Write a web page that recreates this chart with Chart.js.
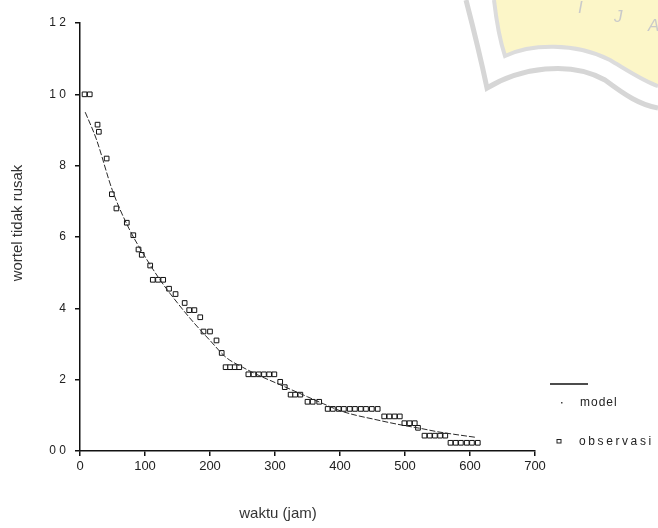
<!DOCTYPE html>
<html>
<head>
<meta charset="utf-8">
<script src="https://cdn.jsdelivr.net/npm/chart.js@4.4.1/dist/chart.umd.min.js"></script>
<style>
html, body { margin: 0; padding: 0; background: #fff; }
#chart-container { width: 658px; height: 528px; }
</style>
</head>
<body>
<div id="chart-container"><canvas id="chart-canvas" width="658" height="528"></canvas></div>
<script>
// observasi (jam, jumlah wortel tidak rusak)
const obsTime = [7, 15, 27, 29, 41, 49, 56, 72, 82, 90, 95, 108, 112, 120, 128, 137, 147, 161, 168, 176,
    185, 190, 200, 210, 218, 224, 231, 238, 245, 259, 267, 275, 283, 291, 299, 308, 315, 324, 331, 339,
    350, 358, 368, 381, 389, 398, 406, 415, 423, 432, 440, 449, 458, 468, 476, 484, 492, 499, 507, 515,
    520, 530, 538, 546, 554, 562, 570, 578, 586, 595, 603, 612];
const obsValue = [10.0, 10.0, 9.15, 8.95, 8.2, 7.2, 6.8, 6.4, 6.05, 5.65, 5.5, 5.2, 4.8, 4.8, 4.8, 4.55, 4.4, 4.15, 3.95, 3.95,
    3.75, 3.35, 3.35, 3.1, 2.75, 2.35, 2.35, 2.35, 2.35, 2.15, 2.15, 2.15, 2.15, 2.15, 2.15, 1.94, 1.79, 1.58, 1.58, 1.58,
    1.38, 1.38, 1.38, 1.18, 1.18, 1.18, 1.18, 1.18, 1.18, 1.18, 1.18, 1.18, 1.18, 0.97, 0.97, 0.97, 0.97, 0.78, 0.78, 0.78,
    0.65, 0.43, 0.43, 0.43, 0.43, 0.43, 0.23, 0.23, 0.23, 0.23, 0.23, 0.23];

// kurva model
const modelTime = [8, 25, 50, 75, 100, 125, 150, 175, 200, 225, 250, 275, 300, 325, 350, 375, 400, 425, 450, 475, 500, 525, 550, 575, 610];
const modelValue = [9.5, 8.75, 7.3, 6.25, 5.45, 4.75, 4.15, 3.6, 3.1, 2.62, 2.35, 2.12, 1.92, 1.72, 1.52, 1.32, 1.13, 1.0, 0.9, 0.8, 0.71, 0.63, 0.54, 0.47, 0.38];

const yTickValues = [0, 2, 4, 6, 8, 10, 12];
const yTickLabels = ['0 0', '2', '4', '6', '8', '1 0', '1 2'];

const xTitle = 'waktu (jam)';
const yTitle = 'wortel tidak rusak';

const FONT = "'Liberation Sans', Arial, sans-serif";

// faint watermark in the top-right corner
const watermark = {
    id: 'watermark',
    beforeDraw(chart) {
        const ctx = chart.ctx;
        ctx.save();
        ctx.fillStyle = '#fff';
        ctx.fillRect(0, 0, chart.width, chart.height);

        ctx.beginPath();
        ctx.moveTo(494, 0);
        ctx.quadraticCurveTo(498, 35, 505, 56);
        ctx.bezierCurveTo(530, 44, 575, 42, 610, 60);
        ctx.bezierCurveTo(630, 72, 645, 82, 658, 86);
        ctx.lineTo(658, 0);
        ctx.closePath();
        ctx.fillStyle = '#fcf6c8';
        ctx.fill();

        ctx.beginPath();
        ctx.moveTo(494, 0);
        ctx.quadraticCurveTo(498, 35, 505, 56);
        ctx.bezierCurveTo(530, 44, 575, 42, 610, 60);
        ctx.bezierCurveTo(630, 72, 645, 82, 658, 86);
        ctx.lineWidth = 4;
        ctx.strokeStyle = '#dcdcdc';
        ctx.stroke();

        ctx.beginPath();
        ctx.moveTo(466, 0);
        ctx.quadraticCurveTo(479, 50, 487, 88);
        ctx.bezierCurveTo(520, 68, 570, 60, 605, 80);
        ctx.bezierCurveTo(625, 95, 640, 105, 658, 108);
        ctx.lineWidth = 5;
        ctx.strokeStyle = '#d6d6d6';
        ctx.stroke();

        ctx.fillStyle = '#cacaca';
        ctx.font = 'italic 17px ' + FONT;
        ctx.textBaseline = 'middle';
        ctx.fillText('I', 578, 8);
        ctx.fillText('J', 614, 17);
        ctx.fillText('A', 648, 26);
        ctx.restore();
    }
};

// axis titles (offset from centre as in the scan) and the side legend
const extras = {
    id: 'extras',
    afterDraw(chart) {
        const ctx = chart.ctx;
        ctx.save();
        ctx.fillStyle = '#333';
        ctx.font = '15px ' + FONT;
        ctx.textAlign = 'center';
        ctx.textBaseline = 'middle';
        ctx.fillText(xTitle, 278, 514);
        ctx.save();
        ctx.translate(18, 223);
        ctx.rotate(-Math.PI / 2);
        ctx.fillText(yTitle, 0, 0);
        ctx.restore();

        ctx.strokeStyle = '#111';
        ctx.lineWidth = 1.5;
        ctx.beginPath();
        ctx.moveTo(550, 384);
        ctx.lineTo(588, 384);
        ctx.stroke();

        ctx.fillStyle = '#444';
        ctx.fillRect(561, 402, 1.5, 1.5);

        ctx.strokeStyle = '#222';
        ctx.lineWidth = 1;
        ctx.strokeRect(557, 439.5, 4, 3.5);

        ctx.fillStyle = '#222';
        ctx.font = '12px ' + FONT;
        ctx.textAlign = 'left';
        ctx.letterSpacing = '1px';
        ctx.fillText('model', 580, 403);
        ctx.letterSpacing = '2.6px';
        ctx.fillText('observasi', 579, 442);
        ctx.restore();
    }
};

const ctx = document.getElementById('chart-canvas').getContext('2d');
new Chart(ctx, {
    type: 'scatter',
    data: {
        datasets: [{
            label: 'model',
            data: modelTime.map((t, i) => ({ x: t, y: modelValue[i] })),
            showLine: true,
            borderColor: '#2a2a2a',
            borderWidth: 1,
            borderDash: [6, 2],
            pointRadius: 0,
            tension: 0.4,
            cubicInterpolationMode: 'monotone'
        }, {
            label: 'observasi',
            data: obsTime.map((t, i) => ({ x: t, y: obsValue[i] })),
            showLine: false,
            pointStyle: 'rect',
            pointRadius: 3.3,
            borderWidth: 1,
            borderColor: '#111',
            backgroundColor: '#fff'
        }]
    },
    options: {
        responsive: false,
        animation: false,
        devicePixelRatio: 1,
        layout: { padding: { left: 0, right: 123, top: 23, bottom: 0 } },
        plugins: {
            legend: { display: false },
            tooltip: { enabled: false }
        },
        scales: {
            x: {
                type: 'linear',
                min: 0,
                max: 700,
                ticks: {
                    stepSize: 100,
                    color: '#222',
                    padding: 3,
                    maxRotation: 0,
                    font: { family: FONT, size: 13 }
                },
                grid: { drawOnChartArea: false, tickLength: 5, color: '#111', lineWidth: 1.5 },
                border: { color: '#111', width: 1.5 },
                afterFit(scale) { scale.height = 77; }
            },
            y: {
                min: 0,
                max: 12,
                ticks: {
                    stepSize: 2,
                    color: '#222',
                    padding: 9,
                    font: { family: FONT, size: 12 },
                    callback: (v) => yTickLabels[yTickValues.indexOf(v)]
                },
                grid: { drawOnChartArea: false, tickLength: 5, color: '#111', lineWidth: 1.5 },
                border: { color: '#111', width: 1.5 },
                afterFit(scale) { scale.width = 80; }
            }
        }
    },
    plugins: [watermark, extras]
});
</script>
</body>
</html>
